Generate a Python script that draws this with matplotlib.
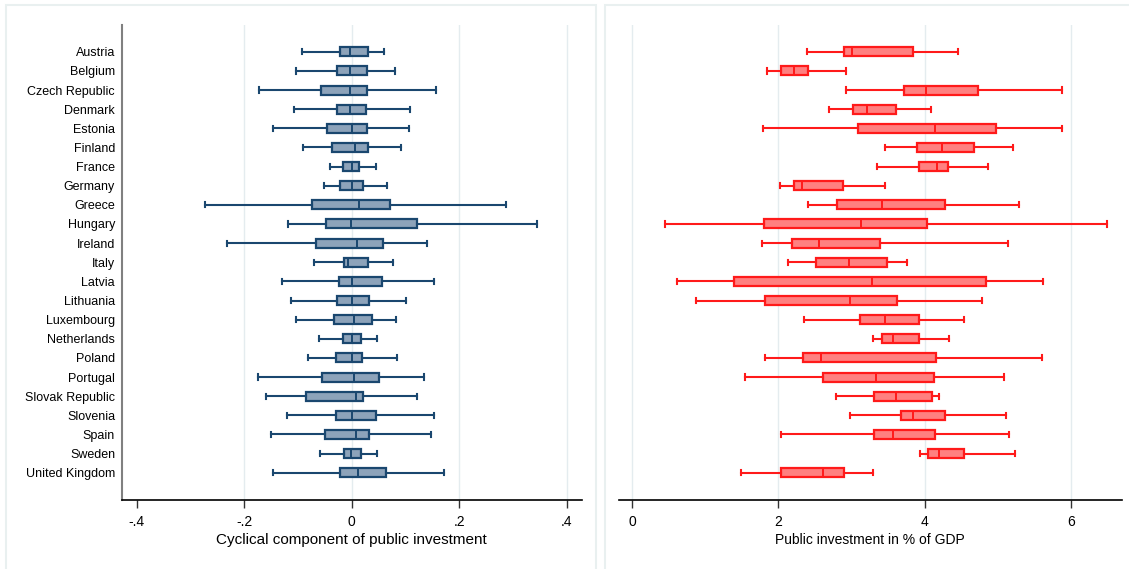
import matplotlib
matplotlib.use("Agg")
import matplotlib.pyplot as plt
from matplotlib.patches import Rectangle

plt.rcParams['font.family'] = ['Liberation Sans', 'DejaVu Sans']

countries = ["Austria", "Belgium", "Czech Republic", "Denmark", "Estonia", "Finland",
             "France", "Germany", "Greece", "Hungary", "Ireland", "Italy", "Latvia",
             "Lithuania", "Luxembourg", "Netherlands", "Poland", "Portugal",
             "Slovak Republic", "Slovenia", "Spain", "Sweden", "United Kingdom"]

# cyclical component: lower whisker, q1, median, q3, upper whisker
cyc_lo  = [-0.092, -0.104, -0.172, -0.108, -0.146, -0.091, -0.041, -0.052, -0.273, -0.118, -0.232, -0.070,
           -0.129, -0.113, -0.103, -0.061, -0.082, -0.174, -0.160, -0.120, -0.150, -0.058, -0.147]
cyc_q1  = [-0.021, -0.027, -0.057, -0.028, -0.045, -0.037, -0.016, -0.021, -0.073, -0.048, -0.066, -0.014,
           -0.024, -0.027, -0.032, -0.016, -0.029, -0.055, -0.085, -0.030, -0.049, -0.014, -0.022]
cyc_med = [-0.004, -0.003, -0.004, -0.004, 0.000, 0.007, 0.001, 0.001, 0.014, -0.001, 0.010, -0.007,
           0.001, 0.000, 0.004, 0.001, 0.001, 0.004, 0.008, 0.000, 0.009, -0.002, 0.011]
cyc_q3  = [0.030, 0.029, 0.029, 0.027, 0.028, 0.030, 0.014, 0.022, 0.071, 0.122, 0.059, 0.031,
           0.056, 0.032, 0.037, 0.017, 0.020, 0.051, 0.022, 0.046, 0.033, 0.018, 0.063]
cyc_hi  = [0.061, 0.080, 0.157, 0.109, 0.106, 0.091, 0.045, 0.066, 0.287, 0.345, 0.141, 0.077,
           0.154, 0.102, 0.083, 0.048, 0.085, 0.134, 0.122, 0.154, 0.148, 0.047, 0.172]

# public investment in % of GDP
gdp_lo  = [2.39, 1.85, 2.93, 2.69, 1.79, 3.45, 3.35, 2.02, 2.41, 0.45, 1.77, 2.13,
           0.61, 0.87, 2.35, 3.29, 1.82, 1.55, 2.79, 2.98, 2.04, 3.94, 1.49]
gdp_q1  = [2.90, 2.04, 3.71, 3.02, 3.09, 3.89, 3.92, 2.21, 2.80, 1.80, 2.19, 2.52,
           1.40, 1.82, 3.12, 3.42, 2.34, 2.61, 3.30, 3.68, 3.30, 4.04, 2.04]
gdp_med = [3.00, 2.21, 4.01, 3.21, 4.14, 4.23, 4.17, 2.32, 3.41, 3.13, 2.56, 2.97,
           3.28, 2.98, 3.45, 3.57, 2.58, 3.33, 3.61, 3.84, 3.56, 4.20, 2.61]
gdp_q3  = [3.84, 2.41, 4.73, 3.60, 4.97, 4.67, 4.32, 2.88, 4.28, 4.03, 3.39, 3.49,
           4.84, 3.62, 3.92, 3.92, 4.15, 4.13, 4.10, 4.27, 4.14, 4.53, 2.90]
gdp_hi  = [4.46, 2.92, 5.88, 4.08, 5.88, 5.21, 4.86, 3.46, 5.29, 6.49, 5.14, 3.75,
           5.62, 4.78, 4.54, 4.33, 5.60, 5.08, 4.20, 5.11, 5.15, 5.23, 3.29]


def stats(lo, q1, med, q3, hi):
    return [dict(whislo=a, q1=b, med=c, q3=d, whishi=e, fliers=[])
            for a, b, c, d, e in zip(lo, q1, med, q3, hi)]


def draw(ax, st, edge, face, xlim, ticks, ticklabels, grid, xlabel, xlabel_size):
    pos = list(range(len(st)))
    ax.bxp(st, positions=pos, orientation='horizontal', widths=0.47, capwidths=0.27,
           patch_artist=True, showfliers=False,
           boxprops=dict(facecolor=face, edgecolor=edge, linewidth=1.6),
           medianprops=dict(color=edge, linewidth=1.4),
           whiskerprops=dict(color=edge, linewidth=1.5),
           capprops=dict(color=edge, linewidth=1.5))
    for g in grid:
        ax.axvline(g, color='#e4ecef', linewidth=1.0, zorder=0)
    ax.set_xlim(*xlim)
    ax.set_ylim(len(st) - 1 + 1.4, -1.4)
    ax.set_xticks(ticks)
    ax.set_xticklabels(ticklabels, fontsize=10)
    ax.tick_params(axis='x', length=6, width=1, color='#333333', pad=5)
    ax.set_xlabel(xlabel, fontsize=xlabel_size, labelpad=3)
    ax.spines['top'].set_visible(False)
    ax.spines['right'].set_visible(False)
    ax.spines['bottom'].set_linewidth(1.2)


fig = plt.figure(figsize=(11.29, 5.69), dpi=100)

# light frames around each panel
fig.patches.append(Rectangle((6 / 1129, -0.05), 590 / 1129, 1.05 - 5 / 569,
                             transform=fig.transFigure, fill=False,
                             edgecolor='#e9f0f0', linewidth=1.5))
fig.patches.append(Rectangle((605 / 1129, -0.05), 0.5, 1.05 - 5 / 569,
                             transform=fig.transFigure, fill=False,
                             edgecolor='#e9f0f0', linewidth=1.5))

ax1 = fig.add_axes([122 / 1129, 1 - 499.5 / 569, 459.7 / 1129, 474.5 / 569])
draw(ax1, stats(cyc_lo, cyc_q1, cyc_med, cyc_q3, cyc_hi), '#1a476f', '#8da3ba',
     (-0.4273, 0.428), [-0.4, -0.2, 0, 0.2, 0.4], ['-.4', '-.2', '0', '.2', '.4'],
     [-0.2, 0, 0.2, 0.4], 'Cyclical component of public investment', 11)
ax1.set_yticks(range(len(countries)))
ax1.set_yticklabels(countries, fontsize=9)
ax1.tick_params(axis='y', length=0, pad=5)
ax1.spines['left'].set_color('#808080')
ax1.spines['left'].set_linewidth(1.5)

ax2 = fig.add_axes([618.7 / 1129, 1 - 499.5 / 569, 503 / 1129, 474.5 / 569])
draw(ax2, stats(gdp_lo, gdp_q1, gdp_med, gdp_q3, gdp_hi), '#ff1a1a', '#ff8080',
     (-0.182, 6.69), [0, 2, 4, 6], ['0', '2', '4', '6'],
     [0, 2, 4, 6], 'Public investment in % of GDP', 10)
ax2.set_yticks([])
ax2.spines['left'].set_visible(False)

fig.savefig('out.png', dpi=100)
